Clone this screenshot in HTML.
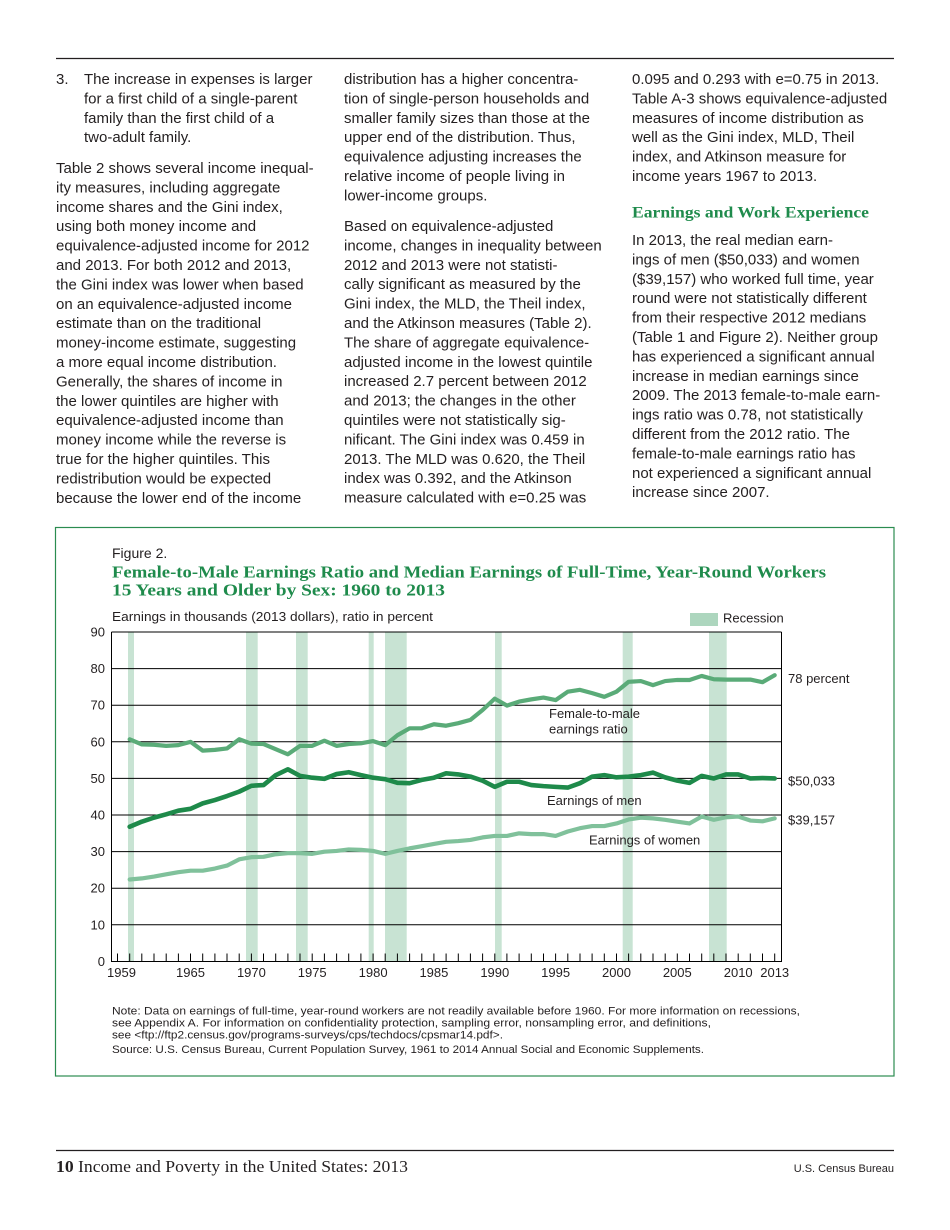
<!DOCTYPE html>
<html><head><meta charset="utf-8">
<style>
html,body{margin:0;padding:0;background:#fff;}
svg{display:block;}
.b{font-family:"Liberation Sans",sans-serif;font-size:15px;fill:#231f20;}
.s13{font-family:"Liberation Sans",sans-serif;font-size:13px;fill:#231f20;}
.s11{font-family:"Liberation Sans",sans-serif;font-size:11px;fill:#231f20;}
.ser{font-family:"Liberation Serif",serif;}
</style></head>
<body>
<svg width="950" height="1230" viewBox="0 0 950 1230" xmlns="http://www.w3.org/2000/svg">
<rect width="950" height="1230" fill="#fff"/>
<line x1="56" y1="58.5" x2="894" y2="58.5" stroke="#231f20" stroke-width="1.3"/>

<text class="b" x="56" y="84">3.</text>
<text class="b">
<tspan x="84" y="84">The increase in expenses is larger</tspan>
<tspan x="84" dy="19.4">for a first child of a single-parent</tspan>
<tspan x="84" dy="19.4">family than the first child of a</tspan>
<tspan x="84" dy="19.4">two-adult family.</tspan>
</text>
<text class="b">
<tspan x="56" y="173">Table 2 shows several income inequal-</tspan>
<tspan x="56" dy="19.4">ity measures, including aggregate</tspan>
<tspan x="56" dy="19.4">income shares and the Gini index,</tspan>
<tspan x="56" dy="19.4">using both money income and</tspan>
<tspan x="56" dy="19.4">equivalence-adjusted income for 2012</tspan>
<tspan x="56" dy="19.4">and 2013. For both 2012 and 2013,</tspan>
<tspan x="56" dy="19.4">the Gini index was lower when based</tspan>
<tspan x="56" dy="19.4">on an equivalence-adjusted income</tspan>
<tspan x="56" dy="19.4">estimate than on the traditional</tspan>
<tspan x="56" dy="19.4">money-income estimate, suggesting</tspan>
<tspan x="56" dy="19.4">a more equal income distribution.</tspan>
<tspan x="56" dy="19.4">Generally, the shares of income in</tspan>
<tspan x="56" dy="19.4">the lower quintiles are higher with</tspan>
<tspan x="56" dy="19.4">equivalence-adjusted income than</tspan>
<tspan x="56" dy="19.4">money income while the reverse is</tspan>
<tspan x="56" dy="19.4">true for the higher quintiles. This</tspan>
<tspan x="56" dy="19.4">redistribution would be expected</tspan>
<tspan x="56" dy="19.4">because the lower end of the income</tspan>
</text>

<text class="b">
<tspan x="344" y="84">distribution has a higher concentra-</tspan>
<tspan x="344" dy="19.4">tion of single-person households and</tspan>
<tspan x="344" dy="19.4">smaller family sizes than those at the</tspan>
<tspan x="344" dy="19.4">upper end of the distribution. Thus,</tspan>
<tspan x="344" dy="19.4">equivalence adjusting increases the</tspan>
<tspan x="344" dy="19.4">relative income of people living in</tspan>
<tspan x="344" dy="19.4">lower-income groups.</tspan>
</text>
<text class="b">
<tspan x="344" y="231">Based on equivalence-adjusted</tspan>
<tspan x="344" dy="19.4">income, changes in inequality between</tspan>
<tspan x="344" dy="19.4">2012 and 2013 were not statisti-</tspan>
<tspan x="344" dy="19.4">cally significant as measured by the</tspan>
<tspan x="344" dy="19.4">Gini index, the MLD, the Theil index,</tspan>
<tspan x="344" dy="19.4">and the Atkinson measures (Table 2).</tspan>
<tspan x="344" dy="19.4">The share of aggregate equivalence-</tspan>
<tspan x="344" dy="19.4">adjusted income in the lowest quintile</tspan>
<tspan x="344" dy="19.4">increased 2.7 percent between 2012</tspan>
<tspan x="344" dy="19.4">and 2013; the changes in the other</tspan>
<tspan x="344" dy="19.4">quintiles were not statistically sig-</tspan>
<tspan x="344" dy="19.4">nificant. The Gini index was 0.459 in</tspan>
<tspan x="344" dy="19.4">2013. The MLD was 0.620, the Theil</tspan>
<tspan x="344" dy="19.4">index was 0.392, and the Atkinson</tspan>
<tspan x="344" dy="19.4">measure calculated with e=0.25 was</tspan>
</text>

<text class="b">
<tspan x="632" y="84">0.095 and 0.293 with e=0.75 in 2013.</tspan>
<tspan x="632" dy="19.4">Table A-3 shows equivalence-adjusted</tspan>
<tspan x="632" dy="19.4">measures of income distribution as</tspan>
<tspan x="632" dy="19.4">well as the Gini index, MLD, Theil</tspan>
<tspan x="632" dy="19.4">index, and Atkinson measure for</tspan>
<tspan x="632" dy="19.4">income years 1967 to 2013.</tspan>
</text>
<text class="ser" x="632" y="217.5" font-size="15.5" font-weight="bold" fill="#1f8b4c" textLength="237" lengthAdjust="spacingAndGlyphs">Earnings and Work Experience</text>
<text class="b">
<tspan x="632" y="245">In 2013, the real median earn-</tspan>
<tspan x="632" dy="19.4">ings of men ($50,033) and women</tspan>
<tspan x="632" dy="19.4">($39,157) who worked full time, year</tspan>
<tspan x="632" dy="19.4">round were not statistically different</tspan>
<tspan x="632" dy="19.4">from their respective 2012 medians</tspan>
<tspan x="632" dy="19.4">(Table 1 and Figure 2). Neither group</tspan>
<tspan x="632" dy="19.4">has experienced a significant annual</tspan>
<tspan x="632" dy="19.4">increase in median earnings since</tspan>
<tspan x="632" dy="19.4">2009. The 2013 female-to-male earn-</tspan>
<tspan x="632" dy="19.4">ings ratio was 0.78, not statistically</tspan>
<tspan x="632" dy="19.4">different from the 2012 ratio. The</tspan>
<tspan x="632" dy="19.4">female-to-male earnings ratio has</tspan>
<tspan x="632" dy="19.4">not experienced a significant annual</tspan>
<tspan x="632" dy="19.4">increase since 2007.</tspan>
</text>

<rect x="55.5" y="527.5" width="838.5" height="548.5" fill="none" stroke="#2b8c50" stroke-width="1.2"/>

<text x="112" y="558" font-size="14" fill="#231f20" style="font-family:'Liberation Sans',sans-serif">Figure 2.</text>
<text class="ser" x="112" y="577.5" font-size="17" font-weight="bold" fill="#1f8b4c" textLength="714" lengthAdjust="spacingAndGlyphs">Female-to-Male Earnings Ratio and Median Earnings of Full-Time, Year-Round Workers</text>
<text class="ser" x="112" y="595.5" font-size="17" font-weight="bold" fill="#1f8b4c" textLength="333" lengthAdjust="spacingAndGlyphs">15 Years and Older by Sex: 1960 to 2013</text>
<text class="s13" x="112" y="621" textLength="321" lengthAdjust="spacingAndGlyphs">Earnings in thousands (2013 dollars), ratio in percent</text>

<rect x="690" y="613" width="28" height="13" fill="#add6be"/>
<text class="s13" x="723" y="622.5">Recession</text>

<g fill="#c8e3d3">
<rect x="128" y="632" width="6" height="329.5"/>
<rect x="246" y="632" width="11.7" height="329.5"/>
<rect x="296" y="632" width="11.7" height="329.5"/>
<rect x="368.7" y="632" width="5" height="329.5"/>
<rect x="385" y="632" width="21.7" height="329.5"/>
<rect x="495" y="632" width="6.7" height="329.5"/>
<rect x="622.7" y="632" width="10" height="329.5"/>
<rect x="709" y="632" width="17.7" height="329.5"/>
</g>

<g stroke="#000" stroke-width="1" fill="none">
<line x1="111.5" y1="632" x2="781.5" y2="632"/>
<line x1="111.5" y1="668.6" x2="781.5" y2="668.6"/>
<line x1="111.5" y1="705.2" x2="781.5" y2="705.2"/>
<line x1="111.5" y1="741.8" x2="781.5" y2="741.8"/>
<line x1="111.5" y1="778.4" x2="781.5" y2="778.4"/>
<line x1="111.5" y1="815" x2="781.5" y2="815"/>
<line x1="111.5" y1="851.6" x2="781.5" y2="851.6"/>
<line x1="111.5" y1="888.2" x2="781.5" y2="888.2"/>
<line x1="111.5" y1="924.8" x2="781.5" y2="924.8"/>
<line x1="111.5" y1="961.5" x2="781.5" y2="961.5"/>
<line x1="111.5" y1="632" x2="111.5" y2="962"/>
<line x1="781.5" y1="632" x2="781.5" y2="962"/>
<path d="M117.5 953.5V961.5M129.7 953.5V961.5M141.8 953.5V961.5M154 953.5V961.5M166.2 953.5V961.5M178.4 953.5V961.5M190.5 953.5V961.5M202.7 953.5V961.5M214.9 953.5V961.5M227 953.5V961.5M239.2 953.5V961.5M251.4 953.5V961.5M263.5 953.5V961.5M275.7 953.5V961.5M287.9 953.5V961.5M300 953.5V961.5M312.2 953.5V961.5M324.4 953.5V961.5M336.6 953.5V961.5M348.7 953.5V961.5M360.9 953.5V961.5M373.1 953.5V961.5M385.2 953.5V961.5M397.4 953.5V961.5M409.6 953.5V961.5M421.8 953.5V961.5M433.9 953.5V961.5M446.1 953.5V961.5M458.3 953.5V961.5M470.4 953.5V961.5M482.6 953.5V961.5M494.8 953.5V961.5M506.9 953.5V961.5M519.1 953.5V961.5M531.3 953.5V961.5M543.5 953.5V961.5M555.6 953.5V961.5M567.8 953.5V961.5M580 953.5V961.5M592.1 953.5V961.5M604.3 953.5V961.5M616.5 953.5V961.5M628.6 953.5V961.5M640.8 953.5V961.5M653 953.5V961.5M665.2 953.5V961.5M677.3 953.5V961.5M689.5 953.5V961.5M701.7 953.5V961.5M713.8 953.5V961.5M726 953.5V961.5M738.2 953.5V961.5M750.3 953.5V961.5M762.5 953.5V961.5M774.7 953.5V961.5"/>
</g>

<g class="s13" text-anchor="end">
<text x="105" y="636.5">90</text>
<text x="105" y="673">80</text>
<text x="105" y="709.7">70</text>
<text x="105" y="746.3">60</text>
<text x="105" y="782.9">50</text>
<text x="105" y="819.5">40</text>
<text x="105" y="856.1">30</text>
<text x="105" y="892.7">20</text>
<text x="105" y="929.3">10</text>
<text x="105" y="966">0</text>
</g>
<g class="s13" text-anchor="middle">
<text x="121.5" y="977">1959</text>
<text x="190.5" y="977">1965</text>
<text x="251.4" y="977">1970</text>
<text x="312.2" y="977">1975</text>
<text x="373.1" y="977">1980</text>
<text x="433.9" y="977">1985</text>
<text x="494.8" y="977">1990</text>
<text x="555.6" y="977">1995</text>
<text x="616.5" y="977">2000</text>
<text x="677.3" y="977">2005</text>
<text x="738.2" y="977">2010</text>
<text x="774.7" y="977">2013</text>
</g>

<g transform="matrix(12.17 0 0 -3.661 117.5 961.5)" fill="none" stroke-linejoin="round" stroke-linecap="round">
<polyline vector-effect="non-scaling-stroke" stroke="#80c19b" stroke-width="4.2" points="1,22.4 2,22.7 3,23.2 4,23.8 5,24.4 6,24.8 7,24.8 8,25.4 9,26.2 10,27.9 11,28.5 12,28.6 13,29.3 14,29.6 15,29.6 16,29.4 17,30.0 18,30.2 19,30.6 20,30.5 21,30.2 22,29.4 23,30.2 24,30.9 25,31.5 26,32.1 27,32.7 28,32.9 29,33.2 30,33.9 31,34.3 32,34.3 33,35.0 34,34.8 35,34.8 36,34.3 37,35.5 38,36.4 39,37.0 40,37.0 41,37.7 42,38.8 43,39.3 44,39.1 45,38.7 46,38.2 47,37.7 48,39.6 49,38.7 50,39.4 51,39.6 52,38.5 53,38.3 54,39.1"/>
<polyline vector-effect="non-scaling-stroke" stroke="#5aab78" stroke-width="4.2" points="1,60.7 2,59.3 3,59.2 4,58.9 5,59.1 6,60.0 7,57.6 8,57.8 9,58.2 10,60.7 11,59.5 12,59.4 13,58.0 14,56.6 15,58.9 16,58.9 17,60.3 18,58.9 19,59.4 20,59.6 21,60.2 22,59.1 23,61.8 24,63.7 25,63.7 26,64.8 27,64.4 28,65.1 29,66.0 30,68.7 31,71.8 32,69.9 33,71.0 34,71.6 35,72.1 36,71.4 37,73.7 38,74.2 39,73.3 40,72.3 41,73.7 42,76.4 43,76.6 44,75.5 45,76.6 46,76.9 47,76.9 48,78.0 49,77.1 50,77.0 51,77.0 52,77.0 53,76.3 54,78.2"/>
<polyline vector-effect="non-scaling-stroke" stroke="#1e8a4a" stroke-width="4.6" points="1,36.8 2,38.2 3,39.3 4,40.2 5,41.2 6,41.7 7,43.2 8,44.1 9,45.2 10,46.4 11,48.0 12,48.2 13,50.9 14,52.5 15,50.7 16,50.2 17,49.9 18,51.2 19,51.7 20,50.9 21,50.2 22,49.8 23,48.8 24,48.7 25,49.6 26,50.2 27,51.4 28,51.1 29,50.5 30,49.4 31,47.7 32,49.1 33,49.1 34,48.2 35,47.9 36,47.7 37,47.5 38,48.7 39,50.5 40,50.9 41,50.3 42,50.5 43,50.9 44,51.6 45,50.3 46,49.4 47,48.8 48,50.7 49,50.0 50,51.1 51,51.1 52,50.0 53,50.1 54,50.0"/>
</g>

<g class="s13">
<text x="788" y="683">78 percent</text>
<text x="788" y="785.5">$50,033</text>
<text x="788" y="824.5">$39,157</text>
<text x="549" y="718">Female-to-male</text>
<text x="549" y="733.5">earnings ratio</text>
<text x="547" y="805">Earnings of men</text>
<text x="589" y="844.5">Earnings of women</text>
</g>

<g class="s11">
<text x="112" y="1014.5" textLength="688" lengthAdjust="spacingAndGlyphs">Note: Data on earnings of full-time, year-round workers are not readily available before 1960. For more information on recessions,</text>
<text x="112" y="1026.5" textLength="599" lengthAdjust="spacingAndGlyphs">see Appendix A. For information on confidentiality protection, sampling error, nonsampling error, and definitions,</text>
<text x="112" y="1038.5" textLength="391" lengthAdjust="spacingAndGlyphs">see &lt;ftp://ftp2.census.gov/programs-surveys/cps/techdocs/cpsmar14.pdf&gt;.</text>
<text x="112" y="1053" textLength="592" lengthAdjust="spacingAndGlyphs">Source: U.S. Census Bureau, Current Population Survey, 1961 to 2014 Annual Social and Economic Supplements.</text>
</g>

<line x1="56" y1="1150.5" x2="894" y2="1150.5" stroke="#231f20" stroke-width="1.3"/>
<text class="ser" x="56" y="1172" font-size="16.5" fill="#231f20" textLength="352" lengthAdjust="spacingAndGlyphs"><tspan font-weight="bold">10</tspan> Income and Poverty in the United States: 2013</text>
<text class="s11" x="894" y="1172" text-anchor="end">U.S. Census Bureau</text>
</svg>
</body></html>
